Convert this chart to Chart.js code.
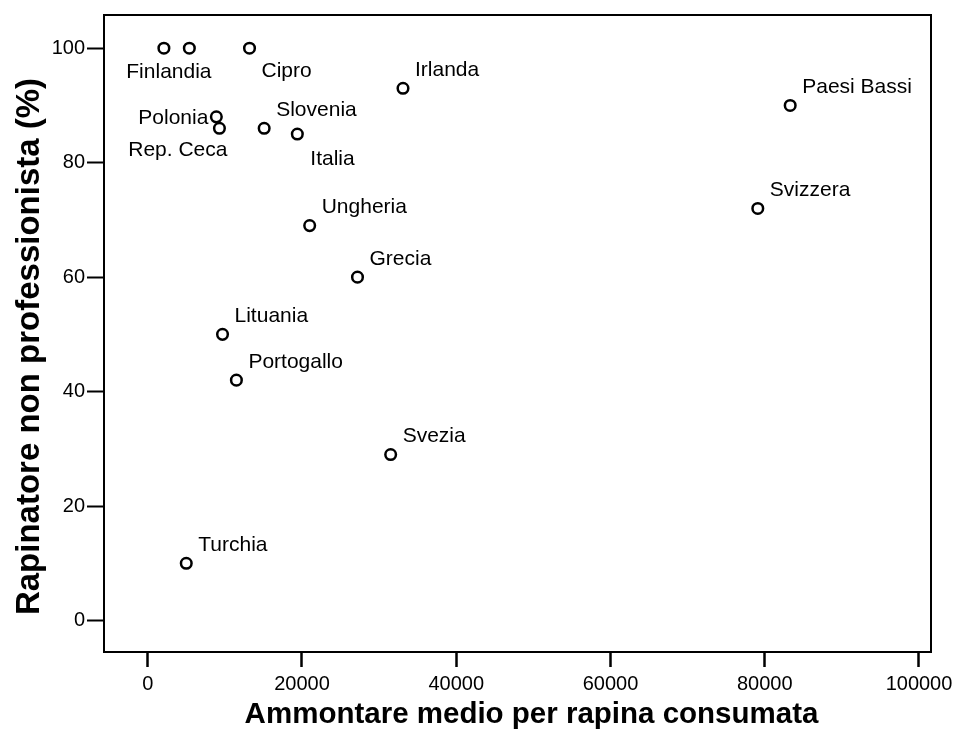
<!DOCTYPE html>
<html>
<head>
<meta charset="utf-8">
<script src="https://cdn.jsdelivr.net/npm/chart.js@4/dist/chart.umd.min.js"></script>
<style>
  html, body { margin: 0; padding: 0; background: #fff; }
  #wrap { width: 961px; height: 738px; }
</style>
</head>
<body>
<div id="wrap"><canvas id="c" width="961" height="738"></canvas></div>
<script>
// values
var countries = ['Finlandia', '', 'Cipro', 'Polonia', 'Rep. Ceca', 'Slovenia', 'Italia', 'Irlanda',
  'Paesi Bassi', 'Svizzera', 'Ungheria', 'Grecia', 'Lituania', 'Portogallo', 'Svezia', 'Turchia'];
var amount = [2100, 5400, 13200, 8900, 9300, 15100, 19400, 33100,
  83300, 79100, 21000, 27200, 9700, 11500, 31500, 5000];
var nonPro = [100, 100, 100, 88, 86, 86, 85, 93,
  90, 72, 69, 60, 50, 42, 29, 10];

var xTicks = [0, 20000, 40000, 60000, 80000, 100000];
var yTicks = [0, 20, 40, 60, 80, 100];

var xTitle = 'Ammontare medio per rapina consumata';
var yTitle = 'Rapinatore non professionista (%)';

// where each label sits relative to its point: [textAlign, dx, dy]
var defaultPlace = ['left', 12, -18];
var labelPlace = {
  'Finlandia': ['center', 5, 24],
  'Cipro': ['left', 12, 23],
  'Polonia': ['right', -8, 1],
  'Rep. Ceca': ['right', 8, 22],
  'Italia': ['left', 13, 25]
};

var FONT = 'Arial, "Liberation Sans", sans-serif';

var points = [];
for (var i = 0; i < amount.length; i++) {
  points.push({ x: amount[i], y: nonPro[i] });
}

function fixedTicks(list) {
  return function(scale) {
    scale.ticks = list.map(function(v) { return { value: v }; });
  };
}

var frame = {
  id: 'frame',
  afterDraw: function(chart) {
    var a = chart.chartArea, ctx = chart.ctx;
    ctx.save();
    ctx.strokeStyle = '#000';
    ctx.lineWidth = 2;
    ctx.strokeRect(a.left, a.top, a.right - a.left, a.bottom - a.top);
    ctx.restore();
  }
};

// axis titles, placed a little off the plot centre as in the picture
var axisTitles = {
  id: 'axisTitles',
  afterDraw: function(chart) {
    var a = chart.chartArea, ctx = chart.ctx;
    var cx = (a.left + a.right) / 2, cy = (a.top + a.bottom) / 2;
    ctx.save();
    ctx.fillStyle = '#000';
    ctx.textAlign = 'center';
    ctx.textBaseline = 'middle';
    ctx.font = 'bold 29.5px ' + FONT;
    ctx.fillText(xTitle, cx + 14, 715);
    ctx.translate(30, cy + 13);
    ctx.rotate(-Math.PI / 2);
    ctx.font = 'bold 33px ' + FONT;
    ctx.fillText(yTitle, 0, 0);
    ctx.restore();
  }
};

var pointLabels = {
  id: 'pointLabels',
  afterDatasetsDraw: function(chart) {
    var ctx = chart.ctx;
    var meta = chart.getDatasetMeta(0);
    ctx.save();
    ctx.fillStyle = '#000';
    ctx.font = '21px ' + FONT;
    ctx.textBaseline = 'middle';
    meta.data.forEach(function(el, i) {
      var name = countries[i];
      if (!name) return;
      var p = labelPlace[name] || defaultPlace;
      ctx.textAlign = p[0];
      ctx.fillText(name, el.x + p[1], el.y + p[2]);
    });
    ctx.restore();
  }
};

new Chart(document.getElementById('c').getContext('2d'), {
  type: 'scatter',
  data: {
    datasets: [{
      data: points,
      pointRadius: 5.3,
      pointHoverRadius: 5.3,
      pointBorderWidth: 2.5,
      pointBorderColor: '#000',
      pointBackgroundColor: 'rgba(255,255,255,0)'
    }]
  },
  options: {
    responsive: false,
    animation: false,
    events: [],
    layout: { autoPadding: false, padding: { left: 0, top: 15, right: 30, bottom: 0 } },
    plugins: { legend: { display: false }, tooltip: { enabled: false } },
    scales: {
      x: {
        type: 'linear',
        min: -5666,
        max: 101556,
        afterBuildTicks: fixedTicks(xTicks),
        afterFit: function(s) { s.height = 86; },
        border: { display: true, color: '#000', width: 2 },
        grid: { drawOnChartArea: false, drawTicks: true, tickLength: 15, tickWidth: 2.5, tickColor: '#000' },
        ticks: {
          maxRotation: 0,
          autoSkip: false,
          padding: 5,
          color: '#000',
          font: { family: FONT, size: 20 },
          callback: function(v) { return String(v); }
        },
        title: { display: false }
      },
      y: {
        type: 'linear',
        min: -5.5,
        max: 105.8,
        afterBuildTicks: fixedTicks(yTicks),
        afterFit: function(s) { s.width = 104; },
        border: { display: true, color: '#000', width: 2 },
        grid: { drawOnChartArea: false, drawTicks: true, tickLength: 17, tickWidth: 2, tickColor: '#000' },
        ticks: {
          autoSkip: false,
          padding: 2,
          color: '#000',
          font: { family: FONT, size: 20 },
          callback: function(v) { return String(v); }
        },
        title: { display: false }
      }
    }
  },
  plugins: [frame, axisTitles, pointLabels]
});
</script>
</body>
</html>
